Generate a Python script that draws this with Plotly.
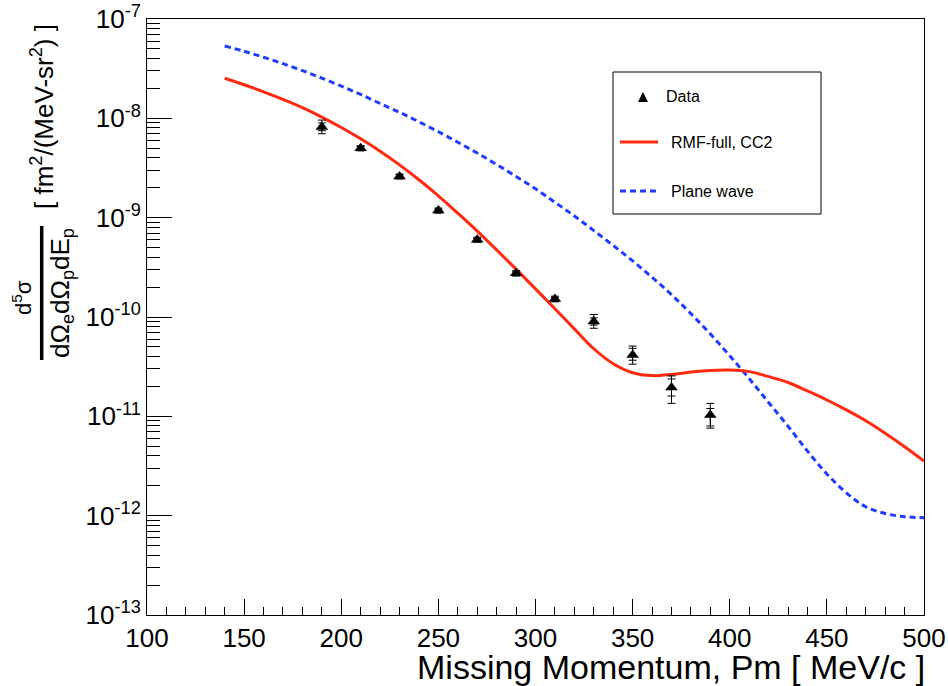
import plotly.graph_objects as go

# ---------------- data ----------------
pm_data = [190, 210, 230, 250, 270, 290, 310, 330, 350, 370, 390]
xs_data = [8.2e-9, 5.0e-9, 2.6e-9, 1.18e-9, 6.0e-10, 2.75e-10, 1.52e-10,
           9.0e-11, 4.15e-11, 1.95e-11, 1.03e-11]
tot_hi = [9.6e-9, 5.3e-9, 2.75e-9, 1.25e-9, 6.35e-10, 2.92e-10, 1.62e-10,
          1.06e-10, 5.1e-11, 2.55e-11, 1.35e-11]
tot_lo = [7.0e-9, 4.7e-9, 2.45e-9, 1.11e-9, 5.65e-10, 2.58e-10, 1.42e-10,
          7.7e-11, 3.35e-11, 1.35e-11, 7.6e-12]
stat_hi = [9.0e-9, 5.2e-9, 2.7e-9, 1.22e-9, 6.2e-10, 2.85e-10, 1.58e-10,
           9.8e-11, 4.84e-11, 2.38e-11, 1.2e-11]
stat_lo = [7.5e-9, 4.8e-9, 2.5e-9, 1.14e-9, 5.8e-10, 2.65e-10, 1.46e-10,
           8.3e-11, 3.67e-11, 1.6e-11, 8.0e-12]

pm_curve = [140, 150, 160, 170, 180, 190, 200, 210, 220, 230, 240, 250, 260,
            270, 280, 290, 300, 310, 320, 330, 340, 350, 360, 370, 380, 390,
            400, 410, 420, 430, 440, 450, 460, 470, 480, 490, 500]
rmf_full = [2.53e-8, 2.18e-8, 1.85e-8, 1.55e-8, 1.28e-8, 1.03e-8, 8.09e-9,
            6.22e-9, 4.67e-9, 3.40e-9, 2.41e-9, 1.66e-9, 1.11e-9, 7.33e-10,
            4.74e-10, 3.03e-10, 1.92e-10, 1.21e-10, 7.60e-11, 4.79e-11,
            3.39e-11, 2.75e-11, 2.57e-11, 2.64e-11, 2.79e-11, 2.90e-11,
            2.93e-11, 2.82e-11, 2.51e-11, 2.19e-11, 1.80e-11, 1.46e-11,
            1.16e-11, 9.02e-12, 6.76e-12, 4.95e-12, 3.55e-12]
plane_wave = [5.35e-8, 4.73e-8, 4.12e-8, 3.55e-8, 3.02e-8, 2.54e-8, 2.11e-8,
              1.74e-8, 1.41e-8, 1.15e-8, 9.23e-9, 7.33e-9, 5.75e-9, 4.47e-9,
              3.43e-9, 2.60e-9, 1.95e-9, 1.43e-9, 1.04e-9, 7.41e-10,
              5.25e-10, 3.67e-10, 2.51e-10, 1.68e-10, 1.08e-10, 6.76e-11,
              4.07e-11, 2.40e-11, 1.38e-11, 7.94e-12, 4.47e-12, 2.63e-12,
              1.70e-12, 1.23e-12, 1.05e-12, 9.77e-13, 9.55e-13]

x_ticks = [100, 150, 200, 250, 300, 350, 400, 450, 500]
y_exps = [-13, -12, -11, -10, -9, -8, -7]
y_ticktext = ["10<sup>%d</sup>" % e for e in y_exps]

legend_labels = ["Data", "RMF-full, CC2", "Plane wave"]
x_title = "Missing Momentum, Pm [ MeV/c ]"

# ---------------- geometry ----------------
W, H = 948, 686
L, R, T, B = 147, 24, 19, 71
PW, PH = W - L - R, H - T - B
FONT = "Liberation Sans, Arial, Helvetica, sans-serif"
RED, BLUE = "#ff2a10", "#1f3cff"


def px(x):
    return (x - L) / PW


def py(y):
    return (H - B - y) / PH


fig = go.Figure()

# curves
fig.add_trace(go.Scatter(x=pm_curve, y=plane_wave, mode="lines",
                         line=dict(color=BLUE, width=3, dash="6px,4px",
                                   shape="spline", smoothing=1.0),
                         showlegend=False))
fig.add_trace(go.Scatter(x=pm_curve, y=rmf_full, mode="lines",
                         line=dict(color=RED, width=3,
                                   shape="spline", smoothing=1.0),
                         showlegend=False))

# inner (statistical) error bars
fig.add_trace(go.Scatter(
    x=pm_data, y=xs_data, mode="markers",
    marker=dict(size=2, color="black"),
    error_y=dict(type="data", symmetric=False,
                 array=[h - v for h, v in zip(stat_hi, xs_data)],
                 arrayminus=[v - l for l, v in zip(stat_lo, xs_data)],
                 color="black", thickness=1, width=4),
    showlegend=False))
# data with total error bars
fig.add_trace(go.Scatter(
    x=pm_data, y=xs_data, mode="markers",
    marker=dict(symbol="triangle-up", size=11, color="black"),
    error_y=dict(type="data", symmetric=False,
                 array=[h - v for h, v in zip(tot_hi, xs_data)],
                 arrayminus=[v - l for l, v in zip(tot_lo, xs_data)],
                 color="black", thickness=1, width=4),
    showlegend=False))

minor_y = [k * 10.0 ** e for e in y_exps[:-1] for k in range(2, 10)]

fig.update_layout(
    width=W, height=H,
    margin=dict(l=L, r=R, t=T, b=B, pad=0, autoexpand=False),
    paper_bgcolor="white", plot_bgcolor="white",
    font=dict(family=FONT, color="black"),
    showlegend=False,
    xaxis=dict(range=[100, 500], tickmode="array", tickvals=x_ticks,
               automargin=False,
               ticks="inside", ticklen=16, tickwidth=1, tickcolor="black",
               showline=True, linecolor="black", linewidth=1, mirror=True,
               showgrid=False, zeroline=False,
               tickfont=dict(size=26, family=FONT),
               minor=dict(dtick=10, tick0=100, ticks="inside", ticklen=8,
                          tickwidth=1, tickcolor="black", showgrid=False)),
    yaxis=dict(type="log", range=[-13, -7], tickmode="array",
               automargin=False,
               tickvals=[10.0 ** e for e in y_exps], ticktext=y_ticktext,
               ticks="inside", ticklen=25, tickwidth=1, tickcolor="black",
               showline=True, linecolor="black", linewidth=1, mirror=True,
               showgrid=False, zeroline=False,
               tickfont=dict(size=26, family=FONT),
               minor=dict(tickmode="array", tickvals=minor_y, ticks="inside",
                          ticklen=13, tickwidth=1, tickcolor="black",
                          showgrid=False)),
)

# x-axis title (right aligned like ROOT)
fig.add_annotation(xref="paper", yref="paper", x=px(927), y=py(667),
                   xanchor="right", yanchor="middle", showarrow=False,
                   text=x_title, font=dict(size=34, family=FONT))

# y-axis title as a fraction
fig.add_annotation(xref="paper", yref="paper", x=px(42), y=py(117),
                   xanchor="center", yanchor="middle", showarrow=False,
                   textangle=-90,
                   text="[ fm<sup>2</sup>/(MeV-sr<sup>2</sup>) ]",
                   font=dict(size=26, family=FONT))
fig.add_annotation(xref="paper", yref="paper", x=px(22), y=py(298),
                   xanchor="center", yanchor="middle", showarrow=False,
                   textangle=-90, text="d<sup>5</sup>σ",
                   font=dict(size=22, family=FONT))
fig.add_annotation(xref="paper", yref="paper", x=px(62), y=py(293),
                   xanchor="center", yanchor="middle", showarrow=False,
                   textangle=-90,
                   text="dΩ<sub>e</sub>dΩ<sub>p</sub>dE<sub>p</sub>",
                   font=dict(size=26, family=FONT))
fig.add_shape(type="line", xref="paper", yref="paper",
              x0=px(41.7), x1=px(41.7), y0=py(226), y1=py(360),
              line=dict(color="black", width=3.5))

# legend box (drawn like ROOT TLegend)
fig.add_shape(type="rect", xref="paper", yref="paper",
              x0=px(613), x1=px(821), y0=py(214), y1=py(72),
              line=dict(color="black", width=1), fillcolor="white", layer="above")
tx, ty = 643, 97
fig.add_shape(type="path", xref="paper", yref="paper", layer="above",
              path="M %f,%f L %f,%f L %f,%f Z" % (px(tx - 5), py(ty + 5),
                                                  px(tx + 5), py(ty + 5),
                                                  px(tx), py(ty - 5)),
              fillcolor="black", line=dict(color="black", width=0))
fig.add_shape(type="line", xref="paper", yref="paper", layer="above",
              x0=px(620), x1=px(658), y0=py(142), y1=py(142),
              line=dict(color=RED, width=3))
fig.add_shape(type="line", xref="paper", yref="paper", layer="above",
              x0=px(620), x1=px(658), y0=py(191), y1=py(191),
              line=dict(color=BLUE, width=3, dash="6px,4px"))
for lab, lx, ly in zip(legend_labels, [664, 669, 669], [97, 142, 191]):
    fig.add_annotation(xref="paper", yref="paper", x=px(lx), y=py(ly),
                       xanchor="left", yanchor="middle", showarrow=False,
                       text=lab, font=dict(size=16, family=FONT))

# remove the browser's default 8px page margin so the figure sits at (0, 0)
fig.write_html("out.html",
               config={"displayModeBar": False},
               post_script="document.body.style.margin='0px';"
                           "document.body.style.overflow='hidden';")
